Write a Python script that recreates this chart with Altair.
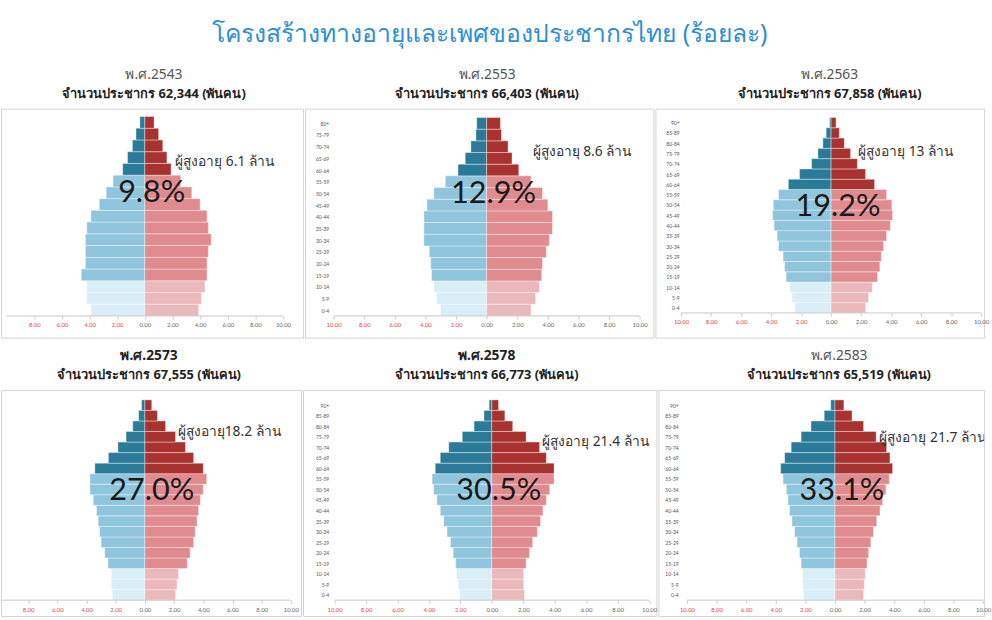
import altair as alt
import pandas as pd

# ---------------- data ----------------
AGES_17 = ["0-4", "5-9", "10-14", "15-19", "20-24", "25-29", "30-34", "35-39", "40-44",
           "45-49", "50-54", "55-59", "60-64", "65-69", "70-74", "75-79", "80+"]
AGES_19 = AGES_17[:-1] + ["80-84", "85-89", "90+"]

YEARS = ["พ.ศ.2543", "พ.ศ.2553", "พ.ศ.2563", "พ.ศ.2573", "พ.ศ.2578", "พ.ศ.2583"]
POPULATION = ["62,344", "66,403", "67,858", "67,555", "66,773", "65,519"]
ELDER_SHARE = ["9.8%", "12.9%", "19.2%", "27.0%", "30.5%", "33.1%"]
ELDER_NOTE = ["ผู้สูงอายุ 6.1 ล้าน", "ผู้สูงอายุ 8.6 ล้าน", "ผู้สูงอายุ 13 ล้าน",
              "ผู้สูงอายุ18.2 ล้าน", "ผู้สูงอายุ 21.4 ล้าน", "ผู้สูงอายุ 21.7 ล้าน"]

# percent of population, youngest group first
MALE_2543 = [3.9, 4.2, 4.2, 4.6, 4.3, 4.3, 4.3, 4.2, 3.9, 3.3, 2.8, 2.3, 1.6, 1.25, 0.9, 0.64, 0.36]
FEMALE_2543 = [3.9, 4.1, 4.35, 4.5, 4.5, 4.6, 4.8, 4.6, 4.5, 4.0, 3.4, 2.6, 1.9, 1.6, 1.3, 1.0, 0.67]
MALE_2553 = [3.0, 3.27, 3.45, 3.6, 3.65, 3.75, 4.1, 4.1, 4.1, 3.9, 3.45, 2.7, 1.87, 1.4, 1.03, 0.7, 0.65]
FEMALE_2553 = [2.9, 3.2, 3.45, 3.6, 3.65, 3.9, 4.1, 4.3, 4.3, 4.0, 3.65, 2.9, 2.1, 1.66, 1.4, 0.97, 0.9]
MALE_2563 = [2.4, 2.6, 2.75, 3.0, 3.1, 3.2, 3.5, 3.6, 3.8, 3.9, 3.85, 3.5, 2.85, 2.1, 1.3, 0.88, 0.55, 0.33, 0.1]
FEMALE_2563 = [2.3, 2.5, 2.75, 3.1, 3.25, 3.35, 3.5, 3.7, 3.95, 4.1, 4.05, 3.7, 2.9, 2.3, 1.75, 1.3, 0.88, 0.55, 0.33]
MALE_2573 = [2.23, 2.3, 2.3, 2.53, 2.75, 3.0, 3.1, 3.2, 3.32, 3.54, 3.77, 3.77, 3.43, 2.5, 1.85, 1.29, 0.83, 0.43, 0.23]
FEMALE_2573 = [2.1, 2.2, 2.3, 2.9, 3.1, 3.34, 3.45, 3.57, 3.68, 3.8, 4.0, 4.24, 4.0, 3.34, 2.78, 2.1, 1.42, 0.86, 0.47]
MALE_2578 = [2.03, 2.14, 2.25, 2.3, 2.46, 2.63, 2.85, 3.06, 3.28, 3.5, 3.7, 3.8, 3.6, 3.28, 2.74, 1.88, 1.13, 0.5, 0.17]
FEMALE_2578 = [2.08, 2.03, 2.03, 2.18, 2.4, 2.6, 2.9, 3.1, 3.25, 3.47, 3.68, 3.96, 3.96, 3.47, 3.04, 2.18, 1.33, 0.83, 0.43]
MALE_2583 = [2.13, 2.18, 2.18, 2.29, 2.4, 2.56, 2.73, 2.91, 3.07, 3.18, 3.29, 3.51, 3.67, 3.4, 2.96, 2.29, 1.62, 0.73, 0.29]
FEMALE_2583 = [1.93, 1.98, 2.04, 2.16, 2.27, 2.42, 2.6, 2.82, 3.04, 3.22, 3.44, 3.67, 3.89, 3.71, 3.49, 2.78, 1.93, 1.15, 0.6]

AGE_SETS = [AGES_17, AGES_17, AGES_19, AGES_19, AGES_19, AGES_19]
MALES = [MALE_2543, MALE_2553, MALE_2563, MALE_2573, MALE_2578, MALE_2583]
FEMALES = [FEMALE_2543, FEMALE_2553, FEMALE_2563, FEMALE_2573, FEMALE_2578, FEMALE_2583]

TICKS_ALL = [-10, -8, -6, -4, -2, 0, 2, 4, 6, 8, 10]

# ---------------- styling / layout ----------------
GROUP_DOMAIN = ["M-child", "M-work", "M-elder", "F-child", "F-work", "F-elder"]
GROUP_RANGE = ["#d9eef6", "#8fc6dd", "#2b7b98", "#ebb8bc", "#e08b8e", "#a8322f"]

THAI_FONT = "Noto Sans"
NUM_FONT = "Lato"

LAYOUT = [
    dict(w=306, h=232, xd=[-10.41, 11.45], yd=[-1.85, 17.67], xoff=-22, yoff=None, dx=2, note=(2.2, 13.1), bold=False, from_tick=1),
    dict(w=353, h=232, xd=[-11.87, 10.90], yd=[-1.86, 17.76], xoff=-22, yoff=-24, dx=8, note=(3.0, 14.0), bold=False, from_tick=0),
    dict(w=333, h=232, xd=[-11.71, 10.20], yd=[-2.40, 19.86], xoff=-25, yoff=-24, dx=10, note=(1.8, 15.6), bold=False, from_tick=0),
    dict(w=304, h=229, xd=[-9.86, 10.70], yd=[-1.50, 19.94], xoff=-16, yoff=None, dx=-2, note=(2.25, 15.9), bold=True, from_tick=1),
    dict(w=358, h=229, xd=[-12.01, 10.47], yd=[-1.50, 19.94], xoff=-16, yoff=-26, dx=7, note=(3.2, 15.0), bold=True, from_tick=0),
    dict(w=330, h=229, xd=[-11.93, 10.07], yd=[-1.50, 19.94], xoff=-16, yoff=-20, dx=18, note=(3.0, 15.4), bold=False, from_tick=0),
]


def build_df(ages, male, female):
    rows = []
    for i, (a, m, f) in enumerate(zip(ages, male, female)):
        stage = "child" if i < 3 else ("work" if i < 12 else "elder")
        rows.append(dict(age=a, lo=i, hi=i + 1, value=-m, grp="M-" + stage))
        rows.append(dict(age=a, lo=i, hi=i + 1, value=f, grp="F-" + stage))
    return pd.DataFrame(rows)


def panel(k):
    L = LAYOUT[k]
    ages = AGE_SETS[k]
    df = build_df(ages, MALES[k], FEMALES[k])
    n = len(ages)

    xscale = alt.Scale(domain=L["xd"], nice=False, zero=False)
    yscale = alt.Scale(domain=L["yd"], nice=False, zero=False)

    xaxis = alt.Axis(
        values=TICKS_ALL[L["from_tick"]:], orient="bottom", offset=L["xoff"],
        domain=False, grid=False, ticks=True, tickSize=3, tickColor="#c8c8c8",
        labelExpr="format(abs(datum.value), '.2f')", labelFontSize=6, labelFont=NUM_FONT,
        labelPadding=3, title=None, labelFlush=False, labelOverlap=False,
        labelColor={"condition": {"test": "datum.value < 0", "value": "#e0484b"}, "value": "#666666"},
    )
    if L["yoff"] is None:
        yaxis = None
    else:
        label_list = "[" + ",".join("'%s'" % a for a in ages) + "]"
        yaxis = alt.Axis(
            values=[i + 0.5 for i in range(n)], orient="left", offset=L["yoff"],
            domain=False, grid=False, ticks=False, labelPadding=0, labelOverlap=False,
            labelExpr=label_list + "[floor(datum.value)]", labelFontSize=5,
            labelFont=NUM_FONT, labelColor="#555555", title=None,
        )

    bars = alt.Chart(df).mark_bar(stroke="white", strokeWidth=0.7, strokeOpacity=0.55).encode(
        x=alt.X("value:Q", scale=xscale, axis=xaxis),
        x2=alt.datum(0),
        y=alt.Y("lo:Q", scale=yscale, axis=yaxis),
        y2="hi:Q",
        color=alt.Color("grp:N", scale=alt.Scale(domain=GROUP_DOMAIN, range=GROUP_RANGE), legend=None),
    )

    axis_line = alt.Chart(pd.DataFrame({"a": [-10], "b": [10], "y": [0]})).mark_rule(
        color="#c8c8c8", strokeWidth=1, clip=True
    ).encode(x=alt.X("a:Q", axis=None), x2="b:Q", y=alt.Y("y:Q", axis=None))

    share = alt.Chart(pd.DataFrame({"x": [0], "y": [12], "t": [ELDER_SHARE[k]]})).mark_text(
        align="center", baseline="top", dx=7, dy=3, fontSize=31, font=NUM_FONT, color="#1a1a1a"
    ).encode(x=alt.X("x:Q", axis=None), y=alt.Y("y:Q", axis=None), text="t:N")

    nx, ny = L["note"]
    note = alt.Chart(pd.DataFrame({"x": [nx], "y": [ny], "t": [ELDER_NOTE[k]]})).mark_text(
        align="left", baseline="middle", fontSize=14, font=THAI_FONT, color="#333333", clip=True
    ).encode(x=alt.X("x:Q", axis=None), y=alt.Y("y:Q", axis=None), text="t:N")

    title = alt.TitleParams(
        text=YEARS[k],
        subtitle="จำนวนประชากร %s (พันคน)" % POPULATION[k],
        fontSize=14, font=THAI_FONT, color="#222222" if L["bold"] else "#555555",
        fontWeight="bold" if L["bold"] else "normal",
        subtitleFontSize=13, subtitleFont=THAI_FONT, subtitleColor="#222222",
        subtitleFontWeight="bold", subtitlePadding=6, anchor="middle", dx=L["dx"], offset=8,
    )

    return alt.layer(bars, axis_line, share, note).resolve_axis(
        x="independent", y="independent"
    ).properties(width=L["w"], height=L["h"], title=title)


row1 = alt.hconcat(panel(0), panel(1), panel(2), spacing=0).resolve_scale(x="independent", y="independent")
row2 = alt.hconcat(panel(3), panel(4), panel(5), spacing=0).resolve_scale(x="independent", y="independent")

chart = alt.vconcat(row1, row2, spacing=10).properties(
    title=alt.TitleParams(
        text="โครงสร้างทางอายุและเพศของประชากรไทย (ร้อยละ)",
        fontSize=25, font=THAI_FONT, color="#2a8fd6", fontWeight="normal",
        anchor="middle", offset=21, dx=-6,
    ),
    padding={"top": 18, "left": 0, "right": 0, "bottom": 0},
).configure_view(stroke="#d4d4d4", strokeWidth=1).configure_concat(spacing=0)

chart.save("out.html", embed_options={"renderer": "svg", "actions": False})
